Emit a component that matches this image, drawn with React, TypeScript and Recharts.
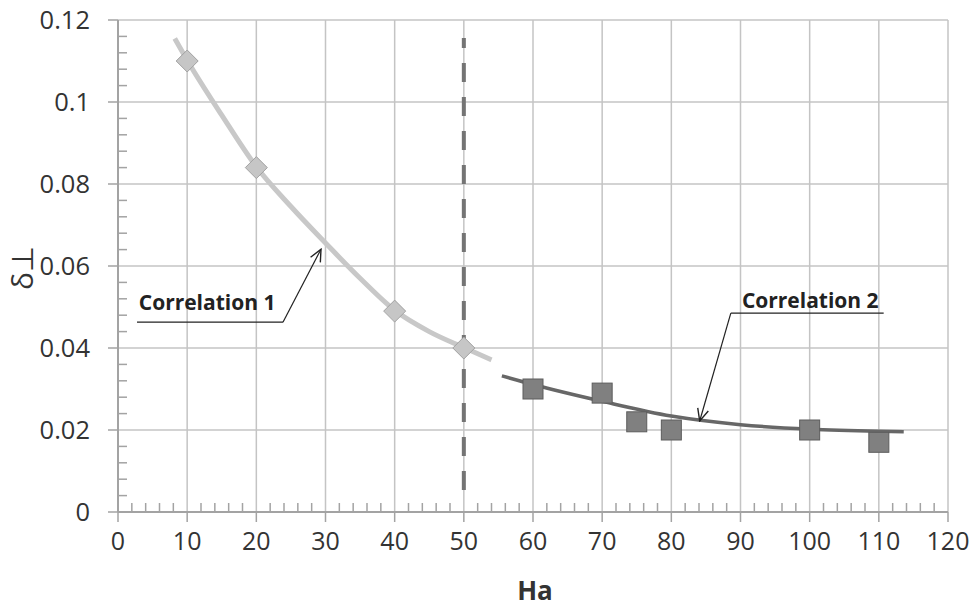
import { ComposedChart, Line, Scatter, XAxis, YAxis, CartesianGrid, ReferenceLine, ReferenceDot } from 'recharts';

// axis ticks (minor every 2 / 0.004, majors carry labels + grid)
const xTicks = [0, 2, 4, 6, 8, 10, 12, 14, 16, 18, 20, 22, 24, 26, 28, 30, 32, 34, 36, 38, 40, 42, 44, 46, 48, 50, 52, 54, 56, 58, 60, 62, 64, 66, 68, 70, 72, 74, 76, 78, 80, 82, 84, 86, 88, 90, 92, 94, 96, 98, 100, 102, 104, 106, 108, 110, 112, 114, 116, 118, 120];
const xMajor = [0, 10, 20, 30, 40, 50, 60, 70, 80, 90, 100, 110, 120];
const yTicks = [0, 0.004, 0.008, 0.012, 0.016, 0.02, 0.024, 0.028, 0.032, 0.036, 0.04, 0.044, 0.048, 0.052, 0.056, 0.06, 0.064, 0.068, 0.072, 0.076, 0.08, 0.084, 0.088, 0.092, 0.096, 0.1, 0.104, 0.108, 0.112, 0.116, 0.12];
const yMajor = [0, 0.02, 0.04, 0.06, 0.08, 0.1, 0.12];

// measured points
const ha1 = [10, 20, 40, 50];
const delta1 = [0.110, 0.084, 0.049, 0.040];
const ha2 = [60, 70, 75, 80, 100, 110];
const delta2 = [0.030, 0.029, 0.022, 0.020, 0.020, 0.017];

// correlation curves
const fit1Ha = [8.2, 10, 15, 20, 25, 30, 35, 40, 45, 50, 54];
const fit1Delta = [0.1155, 0.1102, 0.0968, 0.0842, 0.0745, 0.0656, 0.0570, 0.0492, 0.0440, 0.0401, 0.0371];
const fit2Ha = [55.5, 60, 70, 80, 90, 100, 110, 113.6];
const fit2Delta = [0.0332, 0.0311, 0.0270, 0.0234, 0.0213, 0.0202, 0.0197, 0.0196];

// Ha = 50 divider
const splitHa = [50, 50];
const splitDelta = [0.1156, 0.0046];

const zip = (xs: number[], ys: number[]) => xs.map((x, i) => ({ x, y: ys[i] }));

const AXIS = '#a3a3a3';
const GRID = '#c4c4c4';
const FONT = '"Open Sans", sans-serif';

const XTick = (props: any) => {
  const { x, y, payload } = props;
  const v = payload.value;
  if (Math.round(v) % 10 !== 0) {
    return <line x1={x} x2={x} y1={y} y2={y - 9} stroke={AXIS} strokeWidth={1.5} />;
  }
  return (
    <g>
      <line x1={x} x2={x} y1={y} y2={y + 10} stroke={AXIS} strokeWidth={1.5} />
      <text x={x} y={y + 20} dy="0.71em" textAnchor="middle" fontFamily={FONT} fontSize={25} fill="#333">{v}</text>
    </g>
  );
};

const YTick = (props: any) => {
  const { x, y, payload } = props;
  const v = payload.value;
  if (Math.round(v * 1000) % 20 !== 0) {
    return <line x1={x} x2={x + 9} y1={y} y2={y} stroke={AXIS} strokeWidth={1.5} />;
  }
  return (
    <g>
      <line x1={x - 10} x2={x} y1={y} y2={y} stroke={AXIS} strokeWidth={1.5} />
      <text x={x - 28} y={y} dy="0.36em" textAnchor="end" fontFamily={FONT} fontSize={25.5} fill="#333">{Number(v.toFixed(2))}</text>
    </g>
  );
};

const Diamond = (p: any) => (
  <polygon points={`${p.cx},${p.cy - 11} ${p.cx + 11},${p.cy} ${p.cx},${p.cy + 11} ${p.cx - 11},${p.cy}`} fill="#c6c6c6" stroke="#a2a2a2" strokeWidth={1} />
);

const Square = (p: any) => (
  <rect x={p.cx - 10} y={p.cy - 10} width={20} height={20} fill="#808080" stroke="#5c5c5c" strokeWidth={1} />
);

const noteText = (label: string) => (p: any) => (
  <text x={p.cx} y={p.cy} fontFamily={FONT} fontWeight={700} fontSize={21} fill="#222">{label}</text>
);

export default function App() {
  return (
    <div style={{ position: 'absolute', left: 0, top: 0, background: '#fff' }}>
      <ComposedChart width={977} height={607} margin={{ top: 20, right: 29, left: 0, bottom: 0 }}>
        <defs>
          <marker id="arrow" viewBox="0 0 14 14" refX="13" refY="7" markerWidth="14" markerHeight="14" markerUnits="userSpaceOnUse" orient="auto">
            <path d="M1,1.5 L13,7 L1,12.5" fill="none" stroke="#222" strokeWidth={1.4} />
          </marker>
        </defs>
        <CartesianGrid stroke={GRID} strokeWidth={1.5} horizontalValues={yMajor} verticalValues={xMajor} />
        <XAxis
          type="number"
          dataKey="x"
          domain={[0, 120]}
          ticks={xTicks}
          interval={0}
          height={95}
          tickSize={0}
          tickMargin={0}
          tickLine={false}
          tick={<XTick />}
          axisLine={{ stroke: AXIS, strokeWidth: 2 }}
          label={{
            content: (lp: any) => (
              <text x={lp.viewBox.x + lp.viewBox.width / 2 + 2} y={lp.viewBox.y + 88} textAnchor="middle" fontFamily={FONT} fontWeight={700} fontSize={26} fill="#333">Ha</text>
            ),
          }}
        />
        <YAxis
          type="number"
          domain={[0, 0.12]}
          ticks={yTicks}
          interval={0}
          width={118}
          tickSize={0}
          tickMargin={0}
          tickLine={false}
          tick={<YTick />}
          axisLine={{ stroke: AXIS, strokeWidth: 2 }}
          label={{
            content: (lp: any) => (
              <text transform={`translate(${lp.viewBox.x + 33},${lp.viewBox.y + lp.viewBox.height / 2 + 2}) rotate(-90)`} textAnchor="middle" fontFamily={FONT} fontSize={30} fill="#333">δ⊥</text>
            ),
          }}
        />
        <Line data={zip(splitHa, splitDelta)} dataKey="y" stroke="#747474" strokeWidth={4} strokeDasharray="19 15" strokeDashoffset={9} dot={false} activeDot={false} isAnimationActive={false} />
        <Scatter data={zip(ha1, delta1)} dataKey="y" shape={Diamond} isAnimationActive={false} />
        <Scatter data={zip(ha2, delta2)} dataKey="y" shape={Square} isAnimationActive={false} />
        <Line data={zip(fit1Ha, fit1Delta)} dataKey="y" type="monotone" stroke="#c8c8c8" strokeWidth={5} dot={false} activeDot={false} isAnimationActive={false} />
        <Line data={zip(fit2Ha, fit2Delta)} dataKey="y" type="monotone" stroke="#676767" strokeWidth={3.5} dot={false} activeDot={false} isAnimationActive={false} />

        <ReferenceDot x={3.0} y={0.0493} r={0} shape={noteText('Correlation 1')} />
        <ReferenceLine segment={[{ x: 2.75, y: 0.0463 }, { x: 23.85, y: 0.0463 }]} stroke="#222" strokeWidth={1.2} />
        <ReferenceLine segment={[{ x: 23.85, y: 0.0463 }, { x: 29.35, y: 0.0641 }]} stroke="#222" strokeWidth={1.2} markerEnd="url(#arrow)" />

        <ReferenceDot x={90.2} y={0.0498} r={0} shape={noteText('Correlation 2')} />
        <ReferenceLine segment={[{ x: 88.6, y: 0.0485 }, { x: 110.7, y: 0.0485 }]} stroke="#222" strokeWidth={1.2} />
        <ReferenceLine segment={[{ x: 88.6, y: 0.0485 }, { x: 84.1, y: 0.0222 }]} stroke="#222" strokeWidth={1.2} markerEnd="url(#arrow)" />
      </ComposedChart>
    </div>
  );
}
